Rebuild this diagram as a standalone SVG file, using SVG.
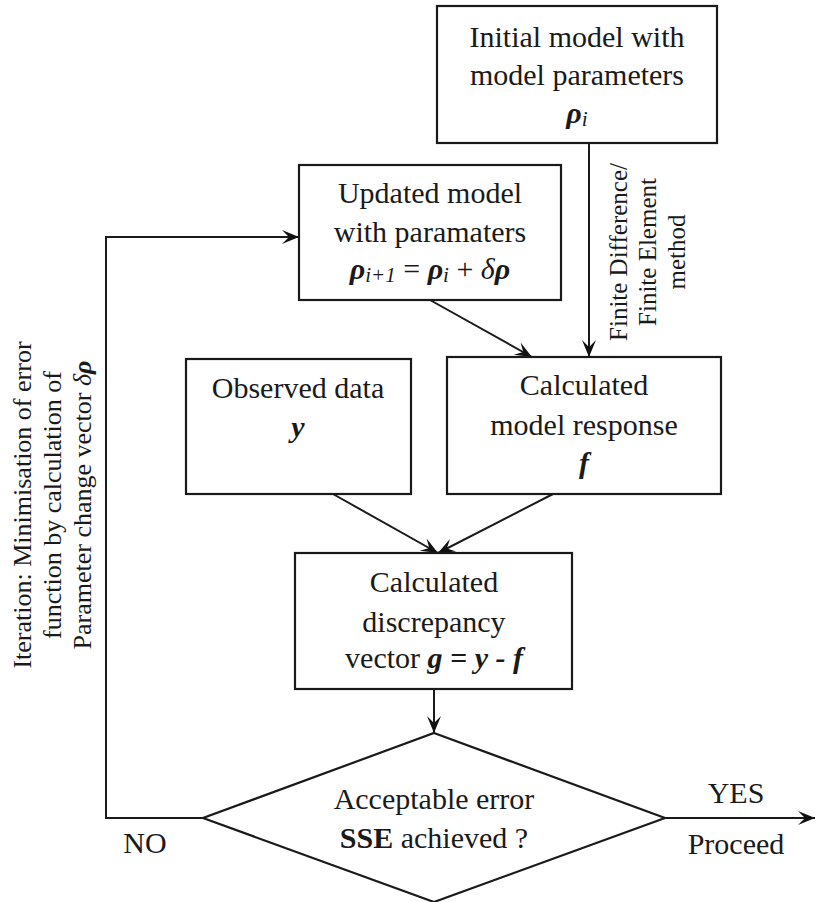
<svg xmlns="http://www.w3.org/2000/svg" width="815" height="902" viewBox="0 0 815 902">
<defs>
<marker id="arr" viewBox="-18 -8 20 16" refX="0" refY="0" markerWidth="20" markerHeight="16" markerUnits="userSpaceOnUse" orient="auto">
<path d="M0,0 L-17,-7 L-10,0 L-17,7 Z" fill="#111"/>
</marker>
</defs>
<style>
text{font-family:"Liberation Serif","Times New Roman",serif;font-size:30px;fill:#1a1a1a;text-anchor:middle}
.box{fill:#fff;stroke:#1a1a1a;stroke-width:2.2}
.ln{fill:none;stroke:#1a1a1a;stroke-width:2}
.bi{font-weight:bold;font-style:italic}
.it{font-style:italic}
.sub{font-style:italic;font-size:21px}
.b{font-weight:bold}
.side{font-size:26px}
.fd{font-size:25px}
</style>
<rect width="815" height="902" fill="#fff"/>
<g id="connectors">
<line class="ln" x1="589" y1="143" x2="589" y2="357" marker-end="url(#arr)"/>
<line class="ln" x1="430" y1="300" x2="532" y2="357" marker-end="url(#arr)"/>
<line class="ln" x1="333" y1="494" x2="438" y2="553" marker-end="url(#arr)"/>
<line class="ln" x1="553" y1="494" x2="438" y2="553" marker-end="url(#arr)"/>
<line class="ln" x1="434" y1="689" x2="434" y2="733" marker-end="url(#arr)"/>
<polyline class="ln" points="203,818 106,818 106,237 299,237" marker-end="url(#arr)"/>
<line class="ln" x1="665" y1="818" x2="815" y2="818" marker-end="url(#arr)"/>
<text class="fd" transform="translate(627,252) rotate(-90)" x="0" y="0">Finite Difference/</text>
<text class="fd" transform="translate(656,252) rotate(-90)" x="0" y="0">Finite Element</text>
<text class="fd" transform="translate(685,252) rotate(-90)" x="0" y="0">method</text>
<text class="side" transform="translate(31,505) rotate(-90)" x="0" y="0">Iteration: Minimisation of error</text>
<text class="side" transform="translate(61,505) rotate(-90)" x="0" y="0">function by calculation of</text>
<text class="side" transform="translate(91,505) rotate(-90)" x="0" y="0">Parameter change vector <tspan class="it">δ</tspan><tspan class="bi">ρ</tspan></text>
<text x="736" y="803">YES</text>
<text x="736" y="854">Proceed</text>
<text x="145" y="853">NO</text>
</g>
<g id="initial">
<rect class="box" x="437" y="6" width="280" height="137"/>
<text x="577" y="47">Initial model with</text>
<text x="577" y="85">model parameters</text>
<text x="577" y="123"><tspan class="bi">ρ</tspan><tspan class="sub" dy="3">i</tspan></text>
</g>
<g id="updated">
<rect class="box" x="299" y="165" width="262" height="135"/>
<text x="430" y="203">Updated model</text>
<text x="430" y="242">with paramaters</text>
<text x="430" y="279"><tspan class="bi">ρ</tspan><tspan class="sub" dy="3">i+1</tspan><tspan dy="-3"> = </tspan><tspan class="bi">ρ</tspan><tspan class="sub" dy="3">i</tspan><tspan dy="-3"> + </tspan><tspan class="it">δ</tspan><tspan class="bi">ρ</tspan></text>
</g>
<g id="observed">
<rect class="box" x="186" y="359" width="225" height="135"/>
<text x="298" y="398">Observed data</text>
<text x="298" y="437" class="bi">y</text>
</g>
<g id="calculated">
<rect class="box" x="447" y="357" width="274" height="137"/>
<text x="584" y="395">Calculated</text>
<text x="584" y="435">model response</text>
<text x="584" y="473" class="bi">f</text>
</g>
<g id="discrepancy">
<rect class="box" x="295" y="553" width="277" height="136"/>
<text x="434" y="592">Calculated</text>
<text x="434" y="632">discrepancy</text>
<text x="434" y="668">vector <tspan class="bi">g = y - f</tspan></text>
</g>
<g id="decision">
<polygon class="box" points="434,733 665,818 434,902 203,818"/>
<text x="434" y="809">Acceptable error</text>
<text x="434" y="848"><tspan class="b">SSE</tspan> achieved ?</text>
</g>
</svg>
